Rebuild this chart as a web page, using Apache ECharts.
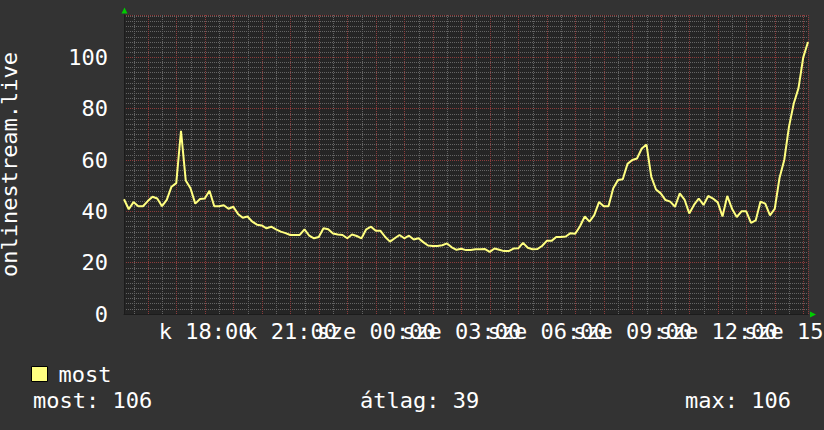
<!DOCTYPE html>
<html><head><meta charset="utf-8">
<script src="https://cdn.jsdelivr.net/npm/echarts@6/dist/echarts.min.js"></script>
<style>html,body{margin:0;padding:0;background:#333333;}#c{width:824px;height:430px;}</style>
</head><body><div id="c"></div>
<script>
// ---- data ----
const seriesName = 'most';
const yTitle = 'onlinestream.live';
const startHour = 15.15;          // 15:09 on day "k"
const stepHours = 1 / 6;          // 10 minute samples
const values = [
  44.7, 40.8, 43.6, 42, 42, 44, 45.7, 45, 42, 44.5,
  49.6, 51, 71.4, 52, 49, 43, 44.8, 45, 48, 42,
  42, 42.4, 41, 41.8, 39, 37.5, 38, 36, 34.8, 34.5,
  33.4, 34, 33, 32.1, 31.5, 30.8, 30.8, 30.8, 33, 30.5,
  29.5, 30, 33.4, 33, 31.4, 31, 30.8, 29.5, 31, 30.4,
  29.5, 33, 34, 32.4, 32.4, 30, 28.2, 29.5, 30.8, 29.5,
  30.5, 29, 29.5, 28, 26.7, 26.5, 26.5, 26.8, 27.5, 26,
  25, 25.4, 24.9, 24.9, 25.2, 25.2, 25.3, 24.2, 25.5, 25,
  24.5, 24.5, 25.5, 25.6, 27.7, 25.8, 25.2, 25.3, 26.5, 28.5,
  28.5, 30, 30, 30.2, 31.5, 31.3, 34.2, 38, 36, 38.5,
  43.6, 42, 42, 49, 52.2, 52.5, 58.5, 60, 60.6, 64.5,
  66, 53.5, 48.5, 47, 44.4, 43.8, 41.8, 47, 44.6, 39.2,
  42.5, 45, 42.5, 46, 45, 43.5, 38, 46, 41, 37.8,
  40, 40, 35.5, 36.5, 43.8, 43, 38.4, 41, 53, 60,
  73, 82, 88, 100, 106
];
const dayNames = ['k', 'sze'];
const statTexts = ['most: 106', 'átlag: 39', 'max: 106'];
// ------------------------------------------------

const FONT = 'DejaVu Sans Mono';
const LINE = '#ffff80';
const GRID_MINOR = '#646464';
const GRID_MAJOR = '#8c3c3c';
const DOT = [1, 1];
const xMin = startHour, xMax = startHour + 24;
const yMax = 116.5;

const data = values.map((v, i) => [startHour + i * stepHours, v]);

function xLabel(h) {
  const r = Math.round(h);
  if (Math.abs(h - r) > 1e-6 || r % 3 !== 0) return '';
  const day = dayNames[Math.floor(r / 24)];
  const hh = r % 24;
  return day + ' ' + (hh < 10 ? '0' : '') + hh + ':00';
}

const chart = echarts.init(document.getElementById('c'), null, {renderer: 'svg'});
chart.setOption({
  backgroundColor: '#333333',
  animation: false,
  textStyle: {fontFamily: FONT},
  grid: {left: 124, right: 16, top: 15, bottom: 116, show: true, backgroundColor: '#252525', borderWidth: 0,
         containLabel: false, outerBoundsMode: 'none'},
  legend: {
    left: 31, top: 363, padding: 0, itemWidth: 16, itemHeight: 15, icon: 'rect',
    itemStyle: {color: LINE, borderColor: '#000', borderWidth: 1},
    textStyle: {color: '#fff', fontSize: 22, fontFamily: FONT, padding: [0, 0, 0, 6]},
    data: [seriesName]
  },
  xAxis: {
    type: 'value', min: xMin, max: xMax, minInterval: 1, maxInterval: 1, position: 'bottom',
    axisLine: {show: true, lineStyle: {color: '#1c1c1c', width: 1}}, axisTick: {show: false},
    axisLabel: {show: true, color: '#fff', fontSize: 22, fontFamily: FONT, margin: 6,
                showMinLabel: false, formatter: xLabel},
    minorTick: {show: false, splitNumber: 2},
    minorSplitLine: {show: true, lineStyle: {color: GRID_MINOR, type: DOT, width: 1}},
    splitLine: {show: true, lineStyle: {color: GRID_MAJOR, type: DOT, width: 1}}
  },
  yAxis: {
    type: 'value', min: 0, max: yMax, interval: 20, position: 'left',
    name: yTitle, nameLocation: 'middle', nameGap: 104, nameRotate: 90,
    nameTextStyle: {color: '#fff', fontSize: 22, fontFamily: FONT},
    axisLine: {show: true, lineStyle: {color: '#1c1c1c', width: 1}}, axisTick: {show: false},
    axisLabel: {show: true, color: '#fff', fontSize: 22, fontFamily: FONT, margin: 16, showMaxLabel: false,
                formatter: v => (v % 20 === 0 ? String(v) : '')},
    minorTick: {show: false, splitNumber: 10},
    minorSplitLine: {show: true, lineStyle: {color: GRID_MINOR, type: DOT, width: 1}},
    splitLine: {show: true, lineStyle: {color: GRID_MAJOR, type: DOT, width: 1}}
  },
  series: [{
    name: seriesName, type: 'line', data: data,
    symbol: 'none', showSymbol: false, z: 5,
    lineStyle: {color: LINE, width: 2}, itemStyle: {color: LINE}
  }],
  graphic: [
    {type: 'polygon', shape: {points: [[121.5, 13.5], [127.5, 13.5], [124.5, 7.5]]}, style: {fill: '#00cc00'}, silent: true},
    {type: 'polygon', shape: {points: [[810, 311.5], [810, 317.5], [816, 314.5]]}, style: {fill: '#00cc00'}, silent: true},
    {type: 'text', left: 33, top: 389, style: {text: statTexts[0], fill: '#fff', font: '22px "DejaVu Sans Mono"'}},
    {type: 'text', left: 360, top: 389, style: {text: statTexts[1], fill: '#fff', font: '22px "DejaVu Sans Mono"'}},
    {type: 'text', right: 33, top: 389, style: {text: statTexts[2], fill: '#fff', font: '22px "DejaVu Sans Mono"'}}
  ]
});
</script>
</body></html>
